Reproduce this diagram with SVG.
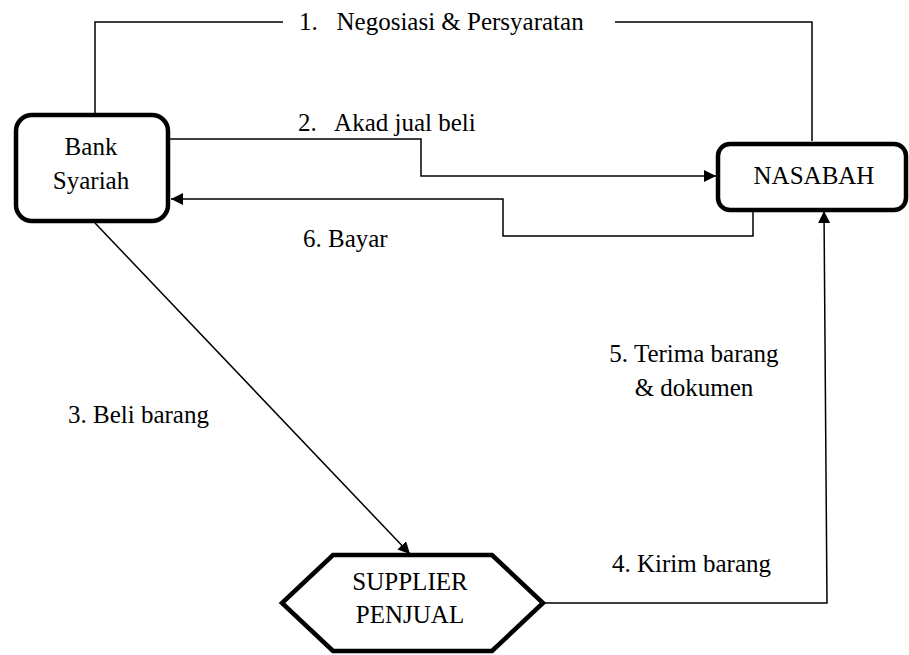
<svg xmlns="http://www.w3.org/2000/svg" width="909" height="655" viewBox="0 0 909 655">
<defs>
<marker id="ah" viewBox="0 0 10 10" refX="10" refY="5" markerWidth="12" markerHeight="12" markerUnits="userSpaceOnUse" orient="auto">
<path d="M0,0 L10,5 L0,10 z" fill="#000"/>
</marker>
</defs>
<rect width="909" height="655" fill="#fff"/>
<g id="connectors" fill="none" stroke="#000" stroke-width="1.5">
<polyline points="95,115 95,22 283,22"/>
<polyline points="615,22 812,22 812,141"/>
<polyline marker-end="url(#ah)" points="168,139 421,139 421,176 716,176"/>
<polyline marker-end="url(#ah)" points="753,211 753,236 503,236 503,199 171,199"/>
<line marker-end="url(#ah)" x1="95" y1="223" x2="410" y2="554"/>
<polyline marker-end="url(#ah)" points="543,603 827,603 824,211"/>
</g>
<text font-family="Times New Roman, Liberation Serif, serif" font-size="25" x="299" y="30" xml:space="preserve">1.   Negosiasi &amp; Persyaratan</text>
<text font-family="Times New Roman, Liberation Serif, serif" font-size="25" x="298" y="131" xml:space="preserve">2.   Akad jual beli</text>
<text font-family="Times New Roman, Liberation Serif, serif" font-size="25" x="303" y="247">6. Bayar</text>
<text font-family="Times New Roman, Liberation Serif, serif" font-size="25" x="68" y="423">3. Beli barang</text>
<text font-family="Times New Roman, Liberation Serif, serif" font-size="25" x="612" y="572">4. Kirim barang</text>
<text font-family="Times New Roman, Liberation Serif, serif" font-size="25" x="694" y="362" text-anchor="middle">5. Terima barang</text>
<text font-family="Times New Roman, Liberation Serif, serif" font-size="25" x="694" y="396" text-anchor="middle">&amp; dokumen</text>
<g id="bank">
<rect fill="#fff" stroke="#000" stroke-width="4.5" x="16" y="115" width="152" height="106" rx="16"/>
<text font-family="Times New Roman, Liberation Serif, serif" font-size="25" x="91" y="155" text-anchor="middle">Bank</text>
<text font-family="Times New Roman, Liberation Serif, serif" font-size="25" x="91" y="189" text-anchor="middle">Syariah</text>
</g>
<g id="nasabah">
<rect fill="#fff" stroke="#000" stroke-width="4.5" x="718" y="144" width="188" height="66" rx="12"/>
<text font-family="Times New Roman, Liberation Serif, serif" font-size="25" x="814" y="184" text-anchor="middle">NASABAH</text>
</g>
<g id="supplier">
<polygon fill="#fff" stroke="#000" stroke-width="4.5" points="333,555 492,555 543,603 492,651 333,651 282,603"/>
<text font-family="Times New Roman, Liberation Serif, serif" font-size="25" x="410" y="590" text-anchor="middle">SUPPLIER</text>
<text font-family="Times New Roman, Liberation Serif, serif" font-size="25" x="410" y="623" text-anchor="middle">PENJUAL</text>
</g>
</svg>
